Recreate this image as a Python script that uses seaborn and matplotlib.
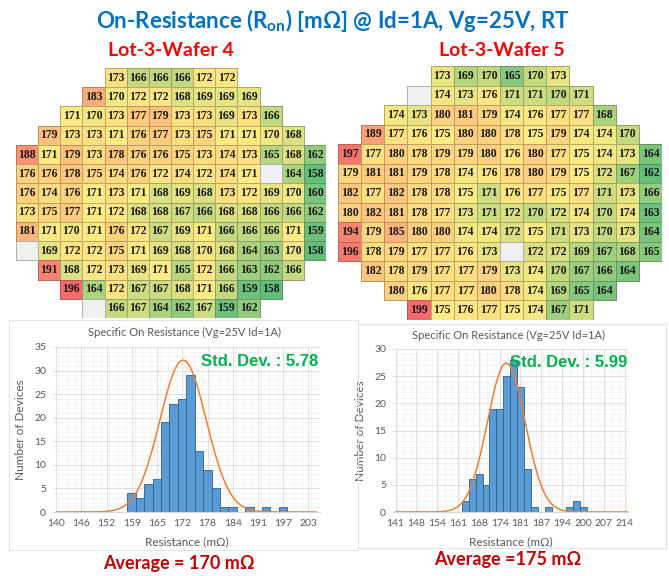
import numpy as np
import pandas as pd
import seaborn as sns
import matplotlib.pyplot as plt
from matplotlib.colors import LinearSegmentedColormap, ListedColormap
from matplotlib.patches import Rectangle
from matplotlib.ticker import MultipleLocator

sns.set_style("white")
plt.rcParams['font.family'] = ['Lato', 'DejaVu Sans']

# ---- wafer maps: first column of each row + die values (None = untested die)
w4_start = [4, 3, 2, 1, 0, 0, 0, 0, 0, 0, 1, 2, 3]
w4_rows = [
    [173, 166, 166, 166, 172, 172],
    [183, 170, 172, 172, 168, 169, 169, 169],
    [171, 170, 173, 177, 179, 173, 173, 169, 173, 166],
    [179, 173, 173, 171, 176, 177, 173, 175, 171, 171, 170, 168],
    [188, 171, 179, 173, 178, 176, 176, 175, 173, 174, 173, 165, 168, 162],
    [176, 176, 178, 175, 174, 176, 172, 174, 172, 174, 171, None, 164, 158],
    [176, 174, 176, 171, 173, 171, 168, 169, 168, 173, 172, 169, 170, 160],
    [173, 175, 177, 171, 172, 168, 168, 167, 166, 168, 168, 166, 166, 162],
    [181, 171, 170, 171, 176, 172, 167, 169, 171, 166, 166, 166, 171, 159],
    [None, 169, 172, 172, 175, 171, 169, 168, 170, 168, 164, 163, 170, 158],
    [191, 168, 172, 173, 169, 171, 165, 172, 166, 163, 162, 166],
    [196, 164, 172, 167, 167, 168, 171, 166, 159, 158],
    [None, 166, 167, 164, 162, 167, 159, 162],
]

w5_start = [4, 3, 2, 1, 0, 0, 0, 0, 0, 0, 1, 2, 3]
w5_rows = [
    [173, 169, 170, 165, 170, 173],
    [None, 174, 173, 176, 171, 171, 170, 171],
    [174, 173, 180, 181, 179, 174, 176, 177, 177, 168],
    [189, 177, 176, 175, 180, 180, 178, 175, 179, 174, 174, 170],
    [197, 177, 180, 178, 179, 179, 180, 176, 180, 177, 175, 174, 173, 164],
    [179, 181, 181, 179, 178, 174, 176, 178, 180, 179, 175, 172, 167, 162],
    [182, 177, 182, 178, 178, 175, 171, 176, 177, 175, 177, 171, 173, 166],
    [180, 182, 181, 178, 177, 173, 171, 172, 170, 172, 174, 170, 174, 163],
    [194, 179, 185, 180, 180, 174, 174, 172, 175, 171, 173, 170, 173, 164],
    [196, 178, 179, 177, 177, 176, 173, None, 172, 172, 169, 167, 168, 165],
    [182, 178, 179, 177, 177, 179, 173, 174, 170, 167, 166, 164],
    [180, 176, 177, 177, 180, 178, 174, 169, 165, 164],
    [199, 175, 176, 177, 175, 174, 167, 171],
]

# ---- histograms (bar counts)
h4_counts = [4, 3, 6, 7, 19, 23, 24, 29, 13, 9, 5, 1, 1, 0, 1, 0, 1, 0, 1]
h4_bin_start, h4_bin_width = 157.8, 2.1
h4_ticklabels = [140, 146, 152, 159, 165, 172, 178, 184, 191, 197, 203]
h4_fit = dict(mean=171.7, sd=5.78, peak=32.2)

h5_counts = [2, 6, 7, 5, 19, 19, 25, 28, 23, 8, 1, 0, 1, 0, 0, 1, 2, 1]
h5_bin_start, h5_bin_width = 162.1, 2.21
h5_ticklabels = [141, 148, 154, 161, 168, 174, 181, 187, 194, 200, 207, 214]
h5_fit = dict(mean=176.3, sd=5.99, peak=27.4)

W, H = 669, 576
fig = plt.figure(figsize=(W / 100, H / 100), dpi=100)

EDGE = (0.3, 0.27, 0.22, 0.38)  # translucent warm grey cell border


def box(x0, y0, x1, y1):
    # pixel box (top-left origin) -> figure fraction
    return [x0 / W, 1 - y1 / H, (x1 - x0) / W, (y1 - y0) / H]


def to_grid(starts, rows, ncols=14):
    grid = np.full((len(rows), ncols), np.nan)
    blank = np.zeros(grid.shape, dtype=bool)
    for r, (c0, vals) in enumerate(zip(starts, rows)):
        for j, v in enumerate(vals):
            if v is None:
                blank[r, c0 + j] = True
            else:
                grid[r, c0 + j] = v
    return grid, blank


def fix_edges(ax, data):
    # only outline cells that exist
    mesh = ax.collections[-1]
    ok = ~np.isnan(data).ravel()
    ec = np.array([EDGE if k else (0, 0, 0, 0) for k in ok])
    mesh.set_edgecolors(ec)


def draw_wafer(ax, starts, rows):
    grid, blank = to_grid(starts, rows)
    lo, mid, hi = np.nanmin(grid), np.nanmedian(grid), np.nanmax(grid)
    cmap = LinearSegmentedColormap.from_list(
        "excel3", [(0, "#63be7b"), ((mid - lo) / (hi - lo), "#ffeb84"), (1, "#f8696b")])
    sns.heatmap(grid, ax=ax, cmap=cmap, vmin=lo, vmax=hi, annot=True, fmt=".0f",
                cbar=False, linewidths=0.6,
                annot_kws=dict(fontsize=8.5, fontweight="bold",
                               family="Liberation Serif", color="#1a1a1a"))
    fix_edges(ax, grid)
    bl = np.where(blank, 1.0, np.nan)
    sns.heatmap(bl, ax=ax, cmap=ListedColormap(["#f0f0f0"]), cbar=False,
                linewidths=0.6)
    fix_edges(ax, bl)
    ax.set_axis_off()


def draw_hist(ax, counts, start, width, fit, ticklabels, xlim, ymax, std_text):
    edges = [start + width * i for i in range(len(counts) + 1)]
    df = pd.DataFrame({"center": [e + width / 2 for e in edges[:-1]],
                       "count": counts})
    sns.histplot(data=df, x="center", weights="count", bins=edges, ax=ax,
                 color="#5b9bd5", edgecolor="#2f5f8a", linewidth=0.6, alpha=1)
    xs = np.linspace(ticklabels[0], ticklabels[-1] + 2, 300)
    ys = fit["peak"] * np.exp(-0.5 * ((xs - fit["mean"]) / fit["sd"]) ** 2)
    sns.lineplot(x=xs, y=ys, ax=ax, color="#ed7d31", linewidth=1.1)
    ax.set_xlim(*xlim)
    ax.set_ylim(0, ymax)
    ticks = np.linspace(ticklabels[0], ticklabels[-1], len(ticklabels))
    ax.set_xticks(ticks)
    ax.set_xticklabels([str(t) for t in ticklabels])
    ax.xaxis.set_minor_locator(MultipleLocator(width))
    ax.yaxis.set_major_locator(MultipleLocator(5))
    ax.yaxis.set_minor_locator(MultipleLocator(1))
    ax.grid(which="major", color="#d9d9d9", linewidth=0.6)
    ax.grid(which="minor", color="#f0f0f0", linewidth=0.5)
    ax.set_axisbelow(True)
    ax.tick_params(which="both", length=0, labelsize=7.5, labelcolor="#595959", pad=5)
    for s in ["top", "right", "left"]:
        ax.spines[s].set_visible(False)
    ax.spines["bottom"].set_color("#d9d9d9")
    ax.set_xlabel("Resistance (mΩ)", fontsize=8.5, color="#595959", labelpad=6)
    ax.set_ylabel("Number of Devices", fontsize=8.5, color="#595959", labelpad=6)
    ax.text(0.995, 0.915, std_text, transform=ax.transAxes, ha="right", va="center",
            fontsize=12, fontweight="bold", color="#00b050", family="Liberation Sans")


# panel frames of the two charts
for x0, y0, x1, y1 in [(9, 320, 358, 550), (358, 324, 666, 548)]:
    fig.patches.append(Rectangle((x0 / W, 1 - y1 / H), (x1 - x0) / W, (y1 - y0) / H,
                                 transform=fig.transFigure, fill=False,
                                 edgecolor="#e3e3e3", linewidth=0.8))

ax4 = fig.add_axes(box(16, 68, 326, 318))
draw_wafer(ax4, w4_start, w4_rows)
ax5 = fig.add_axes(box(338, 66, 662, 320))
draw_wafer(ax5, w5_start, w5_rows)

hx4 = fig.add_axes(box(53, 347, 320, 512))
draw_hist(hx4, h4_counts, h4_bin_start, h4_bin_width, h4_fit, h4_ticklabels,
          (139.2, 205.9), 35, "Std. Dev. : 5.78")
hx5 = fig.add_axes(box(393, 349, 628, 512))
draw_hist(hx5, h5_counts, h5_bin_start, h5_bin_width, h5_fit, h5_ticklabels,
          (140.2, 215.1), 30, "Std. Dev. : 5.99")

fig.text(184 / W, 1 - 332 / H, "Specific On Resistance (Vg=25V Id=1A)",
         ha="center", va="center", fontsize=8, color="#595959")
fig.text(509 / W, 1 - 335 / H, "Specific On Resistance (Vg=25V Id=1A)",
         ha="center", va="center", fontsize=8, color="#595959")

fig.text(333 / W, 1 - 20 / H, "On-Resistance (R$_{\\mathregular{on}}$) [mΩ] @ Id=1A, Vg=25V, RT",
         ha="center", va="center", fontsize=16, fontweight="bold", color="#0070c0")
fig.text(171 / W, 1 - 51 / H, "Lot-3-Wafer 4", ha="center", va="center",
         fontsize=14, fontweight="bold", color="#ff0000")
fig.text(502 / W, 1 - 50 / H, "Lot-3-Wafer 5", ha="center", va="center",
         fontsize=14, fontweight="bold", color="#ff0000")

fig.text(179 / W, 1 - 564 / H, "Average = 170 mΩ", ha="center", va="center",
         fontsize=13, fontweight="bold", color="#c00000")
fig.text(508 / W, 1 - 560 / H, "Average =175 mΩ", ha="center", va="center",
         fontsize=13, fontweight="bold", color="#c00000")

fig.savefig("out.png", dpi=100)
